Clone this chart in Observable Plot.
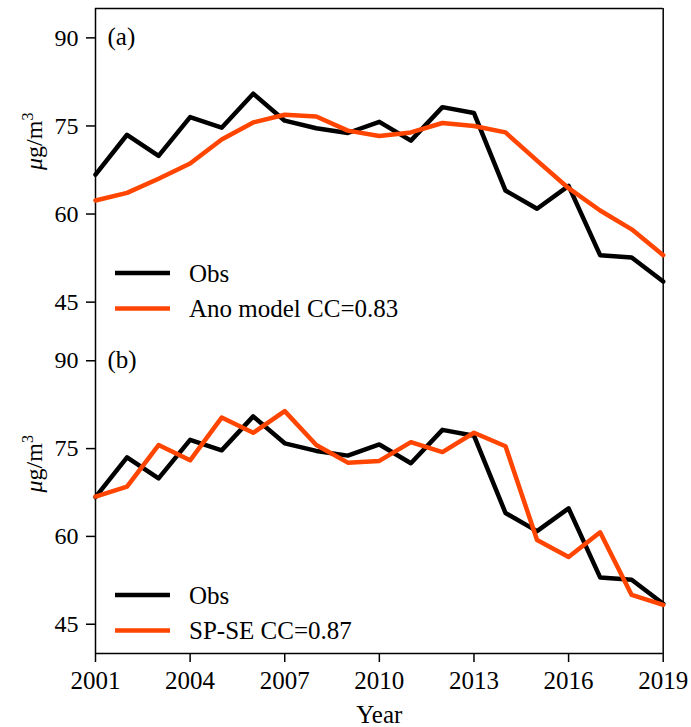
<!DOCTYPE html>
<html>
<head>
<meta charset="utf-8">
<script src="https://cdn.jsdelivr.net/npm/d3@7"></script>
<script src="https://cdn.jsdelivr.net/npm/@observablehq/plot@0.6"></script>
<style>
  html, body { margin: 0; padding: 0; background: white; overflow: hidden; }
  #chart svg { display: block; }
</style>
</head>
<body>
<div id="chart"></div>
<script>
const years = [2001, 2002, 2003, 2004, 2005, 2006, 2007, 2008, 2009, 2010, 2011, 2012, 2013, 2014, 2015, 2016, 2017, 2018, 2019];
const obs  = [66.7, 73.5, 69.9, 76.5, 74.7, 80.5, 75.9, 74.6, 73.8, 75.7, 72.5, 78.2, 77.2, 64.0, 60.9, 64.8, 53.0, 52.6, 48.5];
const ano  = [62.3, 63.6, 66.0, 68.6, 72.7, 75.6, 76.9, 76.6, 74.2, 73.3, 73.9, 75.5, 75.0, 73.9, 69.1, 64.4, 60.6, 57.4, 53.0];
const spse = [66.8, 68.5, 75.6, 73.0, 80.3, 77.7, 81.4, 75.6, 72.6, 72.9, 76.1, 74.4, 77.7, 75.4, 59.4, 56.5, 60.7, 50.0, 48.3];

const xTicks = [2001, 2004, 2007, 2010, 2013, 2016, 2019];
const yTicks = [45, 60, 75, 90];
const xDomain = [2001, 2019];
const yDomain = [40, 95];

const panels = [
  {label: "(a)", model: ano,  modelName: "Ano model CC=0.83"},
  {label: "(b)", model: spse, modelName: "SP-SE CC=0.87"}
];

const BLACK = "#000000";
const ORANGE = "#ff4500";
const FONT = "'Liberation Serif', 'Times New Roman', serif";
const YLABEL = "μg/m3";

function series(values) {
  return years.map((y, i) => ({year: y, value: values[i]}));
}

function legendMark(names) {
  // swatches + labels in the lower-left of the panel
  return (index, scales, values, dimensions) => {
    const g = d3.create("svg:g");
    const left = dimensions.marginLeft;
    const bottom = dimensions.height - dimensions.marginBottom;
    const rows = [{name: names[0], color: BLACK, dy: -58}, {name: names[1], color: ORANGE, dy: -22.5}];
    rows.forEach(r => {
      g.append("line")
        .attr("x1", left + 20).attr("x2", left + 75)
        .attr("y1", bottom + r.dy).attr("y2", bottom + r.dy)
        .attr("stroke", r.color).attr("stroke-width", 4.5);
      g.append("text")
        .attr("x", left + 94).attr("y", bottom + r.dy)
        .attr("dy", "0.34em")
        .attr("text-anchor", "start")
        .attr("font-size", 25)
        .attr("fill", "black")
        .text(r.name);
    });
    return g.node();
  };
}

function makePanel(p, isBottom) {
  const height = isBottom ? 396 : 331;
  const marks = [
    Plot.ruleX(xDomain, {stroke: "black", strokeWidth: 1.5}),
    Plot.ruleY(isBottom ? [yDomain[0]] : [yDomain[1]], {stroke: "black", strokeWidth: 1.5}),
    Plot.axisY(yTicks, {tickSize: 9, tickPadding: 8, fontSize: 24, label: null, strokeWidth: 1.5}),
    Plot.line(series(obs), {x: "year", y: "value", stroke: BLACK, strokeWidth: 4.5, strokeLinejoin: "round"}),
    Plot.line(series(p.model), {x: "year", y: "value", stroke: ORANGE, strokeWidth: 4.5, strokeLinejoin: "round"}),
    Plot.text([p.label], {frameAnchor: "top-left", text: d => d, dx: 12, dy: 28, fontSize: 25, textAnchor: "start", lineAnchor: "middle"}),
    Plot.text([YLABEL], {frameAnchor: "left", text: d => d, dx: -61, rotate: -90, fontSize: 24}),
    legendMark(["Obs", p.modelName])
  ];
  if (isBottom) {
    marks.push(Plot.axisX(xTicks, {tickSize: 9, tickPadding: 9, fontSize: 25, label: null, tickFormat: d => String(d), strokeWidth: 1.5}));
    marks.push(Plot.text(["Year"], {frameAnchor: "bottom", text: d => d, dy: 61, fontSize: 25, lineAnchor: "middle"}));
  }
  const chart = Plot.plot({
    width: 691,
    height,
    marginTop: isBottom ? 0 : 8,
    marginBottom: isBottom ? 74 : 0,
    marginLeft: 95,
    marginRight: 28.3,
    style: {fontFamily: FONT, fontSize: "24px", color: "black", background: "white", overflow: "visible"},
    x: {domain: xDomain, axis: null},
    y: {domain: yDomain, axis: null},
    marks
  });
  // rich y label: italic mu and superscript 3
  const lab = Array.from(chart.querySelectorAll("text")).find(t => t.textContent === YLABEL);
  if (lab) {
    while (lab.firstChild) lab.removeChild(lab.firstChild);
    const ns = "http://www.w3.org/2000/svg";
    const t1 = document.createElementNS(ns, "tspan");
    t1.setAttribute("font-style", "italic");
    t1.textContent = "μ";
    const t2 = document.createElementNS(ns, "tspan");
    t2.textContent = "g/m";
    const t3 = document.createElementNS(ns, "tspan");
    t3.setAttribute("font-size", "16");
    t3.setAttribute("dy", "-0.6em");
    t3.textContent = "3";
    lab.append(t1, t2, t3);
  }
  return chart;
}

const container = document.getElementById("chart");
container.append(makePanel(panels[0], false));
container.append(makePanel(panels[1], true));
</script>
</body>
</html>
